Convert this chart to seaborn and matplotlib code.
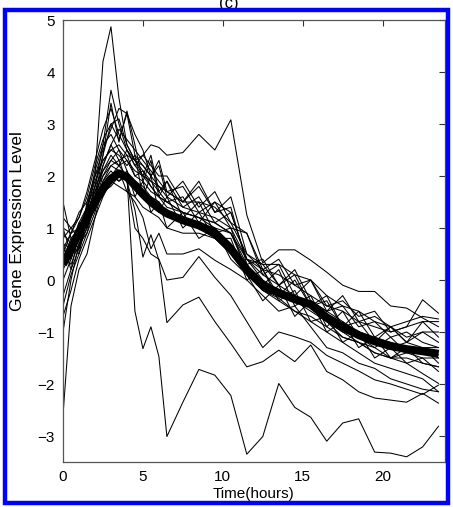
import numpy as np
import pandas as pd
import matplotlib
matplotlib.use("Agg")
import matplotlib.pyplot as plt
import seaborn as sns
from matplotlib.patches import Rectangle

# ---- data ----
time_h = [0, 0.5, 1, 1.5, 2, 2.5, 3, 3.5, 4, 4.5, 5, 5.5, 6, 6.5, 7.5, 8.5, 9.5,
          10.5, 11.5, 12.5, 13.5, 14.5, 15.5, 16.5, 17.5, 18.5, 19.5, 20.5, 21.5, 22.5, 23.5]

gene_A = [0.6, 0.4, 0.9, 1.3, 2.0, 4.2, 4.87, 3.5, 2.6, 2.3, 2.0, 1.8, 1.6, 1.5, 1.3, 1.2, 1.0, 0.9, 0.2, -0.2, -0.3, -0.4, -0.5, -0.8, -1.0, -1.1, -1.2, -1.3, -1.2, -1.3, -1.5]
gene_B = [0.3, 0.6, 0.8, 1.2, 1.8, 2.6, 3.65, 3.0, 2.5, 2.2, 2.0, 2.4, 1.7, 1.9, 1.4, 1.6, 1.1, 1.3, 0.4, 0.2, -0.3, 0.0, -0.5, -0.3, -0.9, -0.8, -1.2, -0.9, -1.2, -1.0, -1.2]
gene_C = [0.9, 0.7, 1.1, 1.0, 1.6, 2.4, 3.4, 2.65, 3.25, 2.6, 1.9, 2.3, 1.6, 1.9, 1.2, 1.5, 0.9, 1.0, 0.1, -0.1, 0.2, -0.5, -0.3, -0.9, -0.6, -1.1, -1.3, -1.1, -1.4, -1.3, -1.6]
gene_D = [0.5, 0.9, 1.3, 1.5, 2.0, 2.5, 2.9, 3.3, 3.2, 2.8, 2.5, 2.0, 2.3, 1.7, 1.8, 1.3, 1.5, 1.3, 0.4, 0.3, -0.1, 0.1, -0.5, -0.4, -0.9, -0.6, -1.1, -0.9, -1.2, -0.8, -1.1]
gene_E = [1.5, 0.8, 0.6, 1.2, 1.6, 2.1, 2.3, 2.2, 2.5, 2.3, 2.4, 2.6, 2.55, 2.4, 2.45, 2.8, 2.5, 3.08, 1.25, 0.33, 0.58, 0.58, 0.38, 0.15, -0.1, -0.22, -0.22, -0.5, -0.54, -0.73, -0.9]
gene_F = [0.3, 0.7, 0.5, 1.2, 1.5, 1.9, 2.1, 1.9, 2.0, -0.6, -1.32, -0.9, -1.47, -3.01, -2.35, -1.72, -1.83, -2.22, -3.35, -3.01, -1.99, -2.45, -2.64, -3.1, -2.75, -2.67, -3.31, -3.33, -3.4, -3.21, -2.81]
gene_G = [0.7, 0.2, 0.9, 1.1, 1.4, 1.7, 1.8, 2.0, 1.9, 1.35, 0.44, 0.87, 0.38, -0.82, -0.48, -0.33, -0.8, -1.22, -1.67, -1.57, -1.35, -1.57, -1.25, -1.76, -1.92, -2.15, -2.27, -2.31, -2.35, -2.18, -2.37]
gene_H = [-0.5, 0.1, 0.5, 0.9, 1.3, 1.9, 2.2, 2.3, 1.9, 1.0, 0.8, 0.5, 0.4, 0.0, 0.05, 0.45, 0.05, -0.3, -0.8, -1.3, -1.0, -1.09, -1.2, -1.45, -1.6, -1.75, -1.92, -2.0, -2.1, -2.2, -2.02]
gene_I = [0.0, 0.4, 0.8, 1.3, 1.7, 2.0, 2.2, 2.1, 1.7, 1.5, 1.2, 0.6, 0.9, 0.5, 0.5, 0.6, 0.38, 0.2, 0.0, -0.3, -0.6, -0.5, -0.9, -1.3, -1.4, -1.6, -1.7, -1.9, -2.0, -2.1, -2.15]
gene_J = [1.0, 0.5, 0.6, 1.5, 2.0, 2.3, 2.5, 2.4, 2.2, 2.4, 1.6, 2.0, 1.3, 1.6, 1.0, 1.3, 0.8, 0.8, 0.0, 0.2, -0.4, -0.2, -0.8, -0.7, -1.2, -1.0, -1.5, -1.3, -1.6, -1.5, -1.76]
gene_K = [-2.6, -0.5, 0.2, 0.5, 1.2, 1.8, 2.0, 1.9, 2.1, 1.6, 1.9, 1.3, 1.5, 1.0, 1.3, 0.8, 1.0, 0.4, 0.1, -0.4, -0.1, -0.7, -0.4, -1.0, -0.8, -1.3, -1.1, -1.5, -1.3, -1.6, -1.67]
gene_L = [-1.0, 0.0, 0.7, 0.9, 1.5, 2.2, 2.6, 2.3, 2.4, 2.0, 1.9, 1.7, 1.6, 1.4, 1.3, 1.2, 1.1, 0.9, 0.3, -0.1, -0.3, -0.4, -0.4, -0.6, -0.8, -1.0, -1.1, -1.2, -1.3, -1.4, -1.44]
gene_M = [0.8, 1.0, 1.2, 1.6, 2.2, 2.7, 3.0, 3.1, 2.6, 2.3, 2.1, 1.9, 1.8, 1.7, 1.5, 1.5, 1.4, 1.1, 0.5, 0.2, 0.1, -0.1, -0.3, -0.5, -0.6, -0.8, -0.9, -1.0, -0.9, -0.8, -0.8]
gene_N = [0.4, 0.8, 1.0, 1.2, 1.8, 2.4, 3.0, 2.7, 3.2, 2.4, 2.2, 2.0, 2.2, 1.6, 1.9, 1.4, 1.7, 1.1, 0.9, 0.1, 0.3, -0.3, 0.0, -0.5, -0.4, -0.7, -0.6, -1.0, -0.9, -0.38, -0.64]
gene_O = [0.2, 0.5, 0.9, 1.4, 1.9, 2.3, 2.5, 2.6, 2.4, 2.3, 2.2, 2.0, 1.8, 1.6, 1.4, 1.3, 1.2, 1.0, 0.4, 0.1, -0.1, -0.3, -0.5, -0.7, -0.9, -1.1, -1.2, -1.3, -1.4, -1.3, -1.3]
gene_P = [0.6, 0.9, 1.0, 1.4, 2.1, 2.6, 2.8, 2.5, 2.3, 2.0, 2.1, 1.8, 1.6, 1.5, 1.6, 1.1, 1.5, 1.0, 0.9, 0.2, 0.4, -0.1, 0.0, -0.6, -0.3, -0.8, -0.7, -0.9, -1.1, -1.0, -1.0]
gene_Q = [0.5, 0.3, 0.7, 1.0, 1.4, 1.8, 2.0, 2.2, 2.3, 2.1, 2.0, 1.9, 1.7, 1.5, 1.3, 1.2, 1.1, 0.9, 0.4, 0.0, -0.2, -0.3, -0.5, -0.8, -1.0, -1.2, -1.4, -1.5, -1.6, -1.8, -1.99]
gene_R = [-0.3, 0.2, 0.6, 1.0, 1.5, 2.0, 2.3, 2.5, 2.1, 1.8, 1.6, 1.6, 1.5, 1.3, 1.2, 1.1, 1.0, 0.7, 0.2, -0.1, -0.3, -0.4, -0.6, -0.8, -1.1, -1.2, -1.3, -1.5, -1.4, -1.5, -1.5]
gene_S = [1.0, 0.9, 1.2, 1.7, 2.3, 2.9, 3.3, 2.8, 2.5, 2.2, 2.4, 2.2, 2.0, 2.0, 1.5, 1.9, 1.3, 1.4, 0.3, 0.4, -0.1, 0.2, -0.4, -0.6, -0.5, -0.9, -0.8, -1.1, -1.0, -1.2, -1.3]
gene_U = [0.7, 0.6, 1.1, 1.4, 1.8, 2.1, 2.4, 2.2, 2.0, 1.9, 1.8, 1.6, 1.5, 1.3, 1.1, 1.0, 0.8, 0.6, 0.1, -0.2, -0.4, -0.6, -0.7, -0.9, -1.1, -1.2, -1.4, -1.5, -1.5, -1.6, -1.67]
gene_V = [1.2, 1.0, 0.8, 1.3, 1.7, 2.2, 2.6, 2.9, 2.7, 2.5, 2.3, 2.1, 1.9, 1.7, 1.5, 1.8, 1.3, 1.6, 0.5, 0.3, 0.3, 0.1, 0.0, -0.3, -0.5, -0.6, -0.8, -0.9, -0.8, -0.7, -0.75]
gene_W = [-0.7, -0.2, 0.4, 0.8, 1.2, 1.6, 1.9, 1.8, 1.7, 1.6, 1.4, 1.3, 1.2, 1.0, 0.9, 0.9, 0.8, 0.5, 0.1, -0.2, -0.35, -0.6, -0.8, -1.0, -1.2, -1.4, -1.6, -1.7, -1.8, -1.9, -2.15]

cluster_mean = [0.3, 0.6, 0.9, 1.2, 1.5, 1.75, 1.95, 2.05, 1.98, 1.82, 1.65, 1.5, 1.38, 1.28, 1.15, 1.05, 0.9, 0.6, 0.2, -0.1, -0.25, -0.37, -0.47, -0.72, -0.9, -1.06, -1.18, -1.27, -1.33, -1.37, -1.42]

genes = {"A": gene_A, "B": gene_B, "C": gene_C, "D": gene_D, "E": gene_E, "F": gene_F,
         "G": gene_G, "H": gene_H, "I": gene_I, "J": gene_J, "K": gene_K, "L": gene_L,
         "M": gene_M, "N": gene_N, "O": gene_O, "P": gene_P, "Q": gene_Q, "R": gene_R,
         "S": gene_S, "U": gene_U, "V": gene_V, "W": gene_W}

x_ticks = [0, 5, 10, 15, 20]
y_ticks = [-3, -2, -1, 0, 1, 2, 3, 4, 5]

rows = []
for name, vals in genes.items():
    for t, v in zip(time_h, vals):
        rows.append({"gene": name, "time": t, "level": v})
df = pd.DataFrame(rows)
df_mean = pd.DataFrame({"time": time_h, "level": cluster_mean})

# ---- style ----
sns.set_theme(style="white")
plt.rcParams["font.family"] = ["Liberation Sans", "DejaVu Sans"]

W, H = 453, 507
fig = plt.figure(figsize=(W / 100, H / 100), dpi=100)
ax = fig.add_axes([63 / W, 1 - 462 / H, (445 - 63) / W, (462 - 20) / H])

sns.lineplot(data=df, x="time", y="level", units="gene", estimator=None,
             color="black", linewidth=0.75, ax=ax, legend=False)
sns.lineplot(data=df_mean, x="time", y="level", color="black", linewidth=5.8,
             ax=ax, legend=False, solid_joinstyle="round", solid_capstyle="butt")

ax.set_xlim(0, 23.9)
ax.set_ylim(-3.5, 5)
ax.set_xticks(x_ticks)
ax.set_yticks(y_ticks)
ax.tick_params(direction="in", length=4, width=0.8, colors="#333333",
               labelcolor="black", labelsize=11, top=True, right=True, pad=6)
for s in ax.spines.values():
    s.set_color("#555555")
    s.set_linewidth(0.9)

ax.set_xlabel("Time(hours)", fontsize=11, labelpad=2, color="black")
ax.set_ylabel("Gene Expression Level", fontsize=12.5, color="black")
ax.yaxis.set_label_coords(-0.10, 0.545)

# title sitting just above the top of the frame, as in the reference
fig.text(0.505, 0.993, "(c)", ha="center", va="center", fontsize=12, color="black")

# blue frame
fig.patches.append(Rectangle((5 / W, 4 / H), (W - 10) / W, (H - 14) / H,
                             transform=fig.transFigure, fill=False,
                             edgecolor="#0000ff", linewidth=3.2, zorder=10))

fig.savefig("out.png", dpi=100)
